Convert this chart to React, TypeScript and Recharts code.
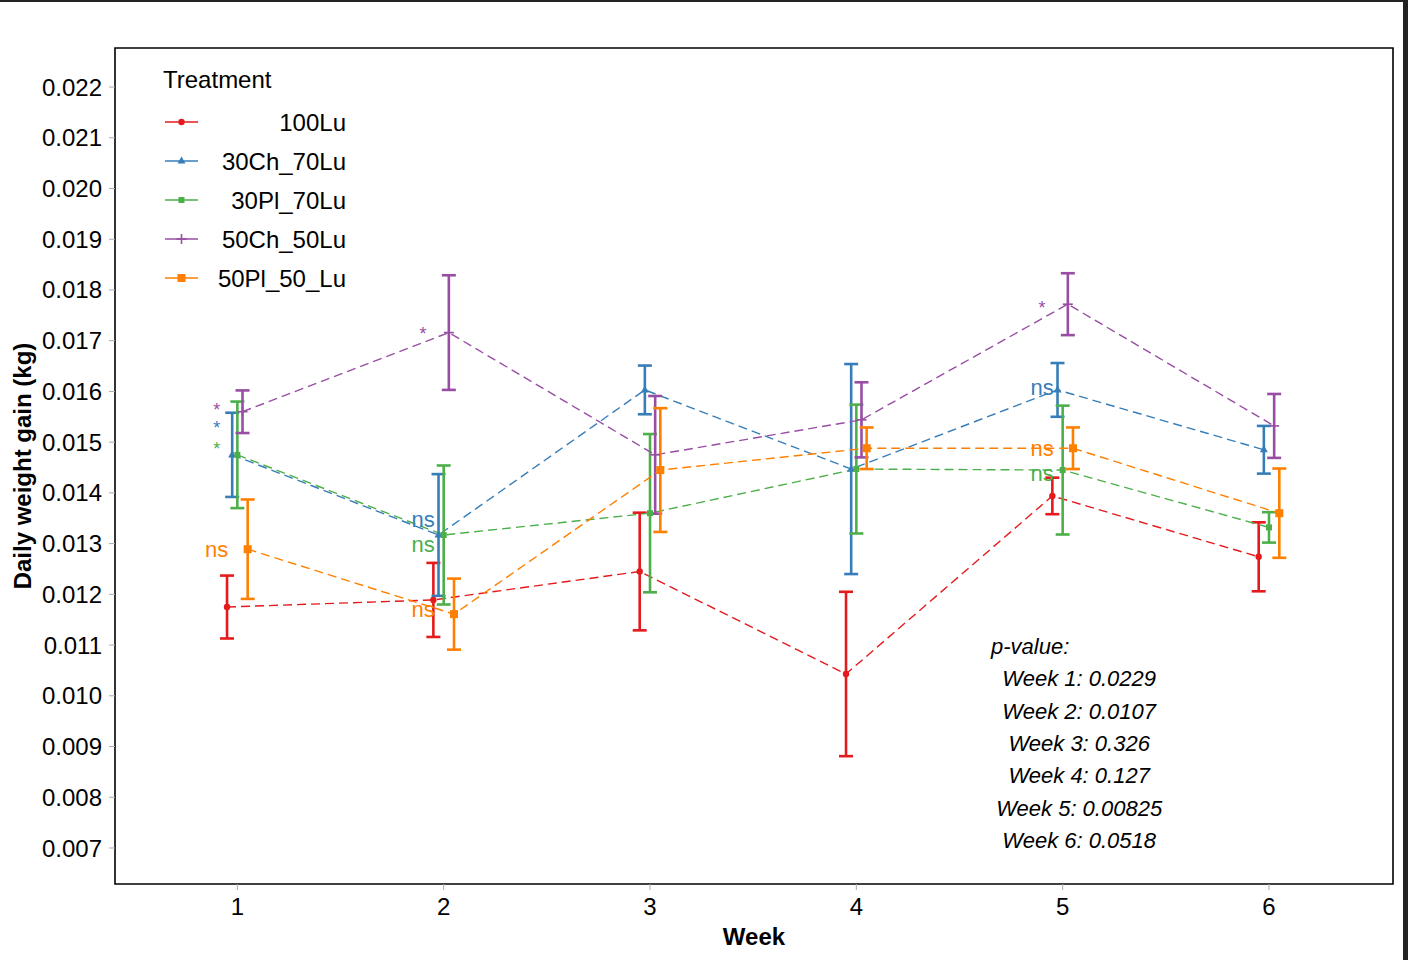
import React from "react";
import { ComposedChart, Line, XAxis, YAxis, ErrorBar, ReferenceArea, ReferenceDot, Legend, Label } from "recharts";

const FONT = '"Liberation Sans", Arial, Helvetica, sans-serif';

const WEEKS = [1, 2, 3, 4, 5, 6];
const TREATMENTS = ["100Lu", "30Ch_70Lu", "30Pl_70Lu", "50Ch_50Lu", "50Pl_50_Lu"];
const COLORS = ["#E41A1C", "#377EB8", "#4DAF4A", "#984EA3", "#FF7F00"];
const SHAPES = ["circle", "triangle", "smallSquare", "plus", "square"];

// mean daily weight gain (kg) per week, and its standard error
const MEAN_100LU = [0.01175, 0.01189, 0.01245, 0.01043, 0.01394, 0.01274];
const SE_100LU = [0.00062, 0.00073, 0.00116, 0.00162, 0.00036, 0.00068];
const MEAN_30CH_70LU = [0.01475, 0.01317, 0.01603, 0.01447, 0.01603, 0.01485];
const SE_30CH_70LU = [0.00083, 0.0012, 0.00048, 0.00207, 0.00053, 0.00047];
const MEAN_30PL_70LU = [0.01475, 0.01317, 0.0136, 0.01447, 0.01445, 0.01332];
const SE_30PL_70LU = [0.00105, 0.00137, 0.00156, 0.00127, 0.00127, 0.0003];
const MEAN_50CH_50LU = [0.0156, 0.01716, 0.01475, 0.01544, 0.01772, 0.01532];
const SE_50CH_50LU = [0.00042, 0.00113, 0.00116, 0.00074, 0.00061, 0.00063];
const MEAN_50PL_50LU = [0.01289, 0.01161, 0.01445, 0.01488, 0.01488, 0.0136];
const SE_50PL_50LU = [0.00098, 0.0007, 0.00122, 0.00041, 0.00041, 0.00088];

const Y_TICKS = [0.007, 0.008, 0.009, 0.01, 0.011, 0.012, 0.013, 0.014, 0.015, 0.016, 0.017, 0.018, 0.019, 0.02, 0.021, 0.022];

// significance labels (week, group index, text, value at glyph centre)
const NOTE_WEEK = [1, 1, 1, 1, 2, 2, 2, 2, 5, 5, 5, 5];
const NOTE_GROUP = [3, 1, 2, 4, 3, 1, 2, 4, 3, 1, 4, 2];
const NOTE_TEXT = ["*", "*", "*", "ns", "*", "ns", "ns", "ns", "*", "ns", "ns", "ns"];
const NOTE_VALUE = [0.01573, 0.01536, 0.01496, 0.01285, 0.01723, 0.01345, 0.01295, 0.01167, 0.01774, 0.01605, 0.01485, 0.01435];

const P_LINES = ["p-value:", "Week 1: 0.0229", "Week 2: 0.0107", "Week 3: 0.326", "Week 4: 0.127", "Week 5: 0.00825", "Week 6: 0.0518"];

const MEANS = [MEAN_100LU, MEAN_30CH_70LU, MEAN_30PL_70LU, MEAN_50CH_50LU, MEAN_50PL_50LU];
const SES = [SE_100LU, SE_30CH_70LU, SE_30PL_70LU, SE_50CH_50LU, SE_50PL_50LU];
const DODGE = [-0.05, -0.025, 0, 0.025, 0.05];
const X_DOMAIN = [0.407, 6.601];
const Y_DOMAIN = [0.00629, 0.02277];

const series = TREATMENTS.map((name, i) => ({
  name,
  color: COLORS[i],
  shape: SHAPES[i],
  data: WEEKS.map((week, j) => ({ x: week + DODGE[i], value: MEANS[i][j], err: SES[i][j] })),
}));

function Marker({ shape, cx, cy, color }: { shape: string; cx: number; cy: number; color: string }) {
  if (shape === "circle") return <circle cx={cx} cy={cy} r={3.2} fill={color} />;
  if (shape === "triangle") return <polygon points={`${cx},${cy - 4.5} ${cx + 4},${cy + 2.6} ${cx - 4},${cy + 2.6}`} fill={color} />;
  if (shape === "smallSquare") return <rect x={cx - 3} y={cy - 3} width={6} height={6} fill={color} />;
  if (shape === "plus")
    return (
      <g stroke={color} strokeWidth={1.6}>
        <line x1={cx - 5} y1={cy} x2={cx + 5} y2={cy} />
        <line x1={cx} y1={cy - 5} x2={cx} y2={cy + 5} />
      </g>
    );
  return <rect x={cx - 4} y={cy - 4} width={8} height={8} fill={color} />;
}

function renderLegend() {
  return (
    <svg width={230} height={240} style={{ overflow: "visible", fontFamily: FONT }}>
      <text x={13} y={30} fontSize={24} fill="#000">Treatment</text>
      {series.map((s, i) => {
        const cy = 64 + i * 39;
        return (
          <g key={s.name}>
            <line x1={15} x2={48} y1={cy} y2={cy} stroke={s.color} strokeWidth={1.6} />
            <Marker shape={s.shape} cx={31.5} cy={cy} color={s.color} />
            <text x={196} y={cy + 8.5} textAnchor="end" fontSize={24} fill="#000">{s.name}</text>
          </g>
        );
      })}
    </svg>
  );
}

function YTitle(props: any) {
  const { x, y, height } = props.viewBox;
  const cx = x + 22;
  const cy = y + height / 2;
  return (
    <text x={cx} y={cy} transform={`rotate(-90 ${cx} ${cy})`} textAnchor="middle" dominantBaseline="central" fontSize={24} fontWeight="bold" fontFamily={FONT} fill="#000">
      Daily weight gain (kg)
    </text>
  );
}

export default function App() {
  return (
    <div style={{ position: "absolute", left: 0, top: 0, width: 1408, height: 960, background: "#fff", fontFamily: FONT }}>
      <ComposedChart width={1408} height={960} margin={{ top: 48, right: 15, bottom: 0, left: 0 }}>
        <XAxis
          type="number"
          dataKey="x"
          domain={X_DOMAIN}
          ticks={WEEKS}
          allowDataOverflow
          height={76}
          axisLine={false}
          tickSize={6}
          tickMargin={8}
          tickLine={{ stroke: "#aaa" }}
          tick={{ fontSize: 24, fill: "#000", fontFamily: FONT }}
        >
          <Label value="Week" position="insideBottom" offset={15} fontSize={24} fontWeight="bold" fill="#000" fontFamily={FONT} />
        </XAxis>
        <YAxis
          type="number"
          domain={Y_DOMAIN}
          ticks={Y_TICKS}
          allowDataOverflow
          width={115}
          axisLine={false}
          tickSize={6}
          tickMargin={7}
          tickLine={{ stroke: "#aaa" }}
          tickFormatter={(v: number) => v.toFixed(3)}
          tick={{ fontSize: 24, fill: "#000", fontFamily: FONT }}
        >
          <Label content={YTitle} />
        </YAxis>
        <ReferenceArea x1={X_DOMAIN[0]} x2={X_DOMAIN[1]} y1={Y_DOMAIN[0]} y2={Y_DOMAIN[1]} fill="none" stroke="#000" strokeWidth={1.6} />
        {series.map((s) => (
          <Line
            key={s.name}
            data={s.data}
            dataKey="value"
            name={s.name}
            stroke={s.color}
            strokeWidth={1.4}
            strokeDasharray="9 5"
            isAnimationActive={false}
            dot={(p: any) => <Marker key={`${s.name}-${p.index}`} shape={s.shape} cx={p.cx} cy={p.cy} color={s.color} />}
            activeDot={false}
          >
            <ErrorBar dataKey="err" direction="y" width={7} strokeWidth={2.6} stroke={s.color} isAnimationActive={false} />
          </Line>
        ))}
        {NOTE_TEXT.map((text, i) => (
          <ReferenceDot
            key={`note-${i}`}
            x={NOTE_WEEK[i] - 0.1}
            y={NOTE_VALUE[i]}
            r={0}
            shape={(p: any) => (
              <text x={p.cx} y={p.cy + (text === "*" ? 10.5 : 6)} textAnchor="middle" fontSize={text === "*" ? 18 : 22} fontFamily={FONT} fill={COLORS[NOTE_GROUP[i]]}>
                {text}
              </text>
            )}
          />
        ))}
        <ReferenceDot
          x={5.08}
          y={0.01098}
          r={0}
          shape={(p: any) => (
            <text fontSize={22} fontStyle="italic" fontFamily={FONT} fill="#000" textAnchor="middle">
              {P_LINES.map((line, i) => (
                <tspan key={line} x={p.cx + (i === 0 ? -49 : 0)} y={p.cy + 8 + i * 32.3}>
                  {line}
                </tspan>
              ))}
            </text>
          )}
        />
        <Legend layout="vertical" align="center" verticalAlign="middle" wrapperStyle={{ left: 150, top: 58, width: 230, height: 240 }} content={renderLegend} />
      </ComposedChart>
      <div style={{ position: "absolute", left: 0, top: 0, width: 1408, height: 2, background: "#222" }} />
      <div style={{ position: "absolute", left: 1403, top: 0, width: 5, height: 960, background: "#222" }} />
    </div>
  );
}
